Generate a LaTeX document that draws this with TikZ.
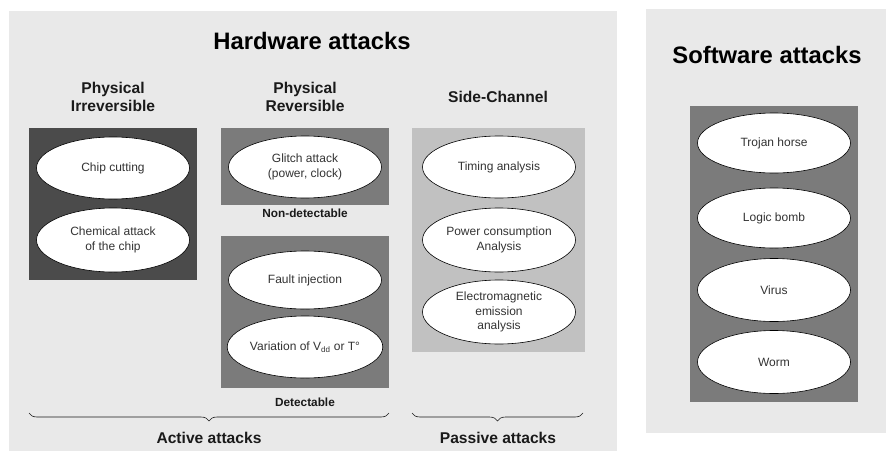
\documentclass[tikz,border=0pt]{standalone}
\usepackage{fontspec}
\setmainfont{Liberation Sans}
\usetikzlibrary{shapes.geometric,decorations.pathreplacing}
\definecolor{panelgray}{HTML}{E9E9E9}
\definecolor{darkbox}{HTML}{4B4B4B}
\definecolor{midbox}{HTML}{7B7B7B}
\definecolor{lightbox}{HTML}{C1C1C1}
\definecolor{ink}{HTML}{1A1A1A}
\definecolor{elltext}{HTML}{333333}
\begin{document}
\begin{tikzpicture}[x=1pt,y=-1pt,
  ell/.style={ellipse,draw=black,line width=0.6pt,fill=white,inner sep=0pt,
    minimum width=153pt,minimum height=62pt,align=center,text=elltext,
    font=\fontsize{12}{14.5}\selectfont},
  title/.style={font=\fontsize{23.8}{27}\selectfont\bfseries,text=black},
  subtitle/.style={font=\fontsize{15.6}{18.5}\selectfont\bfseries,align=center,text=ink},
  small/.style={font=\fontsize{11.8}{13}\selectfont\bfseries,text=ink},
  bracestyle/.style={decorate,decoration={brace,mirror,amplitude=8pt},line width=0.6pt,draw=ink}
]
\useasboundingbox (0,0) rectangle (886,453);
\fill[white] (0,0) rectangle (886,453);

% panels
\fill[panelgray] (9,11) rectangle (617,451);
\fill[panelgray] (646,9) rectangle (886,433);

% titles
\node[title] (hw) at (312,41) {Hardware attacks};
\node[title] (sw) at (767,55) {Software attacks};
\node[subtitle] (pi) at (113,97) {Physical\\Irreversible};
\node[subtitle] (pr) at (305,97) {Physical\\Reversible};
\node[subtitle] (sc) at (498,97) {Side-Channel};

% group boxes
\fill[darkbox] (29,128) rectangle (197,280);
\fill[midbox] (221,128) rectangle (389,205);
\fill[midbox] (221,236) rectangle (389,388);
\fill[lightbox] (412,128) rectangle (585,352);
\fill[midbox] (690,106) rectangle (858,402);

% ellipses
\node[ell] (cut) at (113,168) {Chip cutting};
\node[ell,minimum height=64pt] (chem) at (113,240) {Chemical attack\\of the chip};
\node[ell] (glitch) at (305,167) {Glitch attack\\(power, clock)};
\node[ell,minimum height=58pt] (fault) at (305,280) {Fault injection};
\node[ell] (vdd) at (305,347) {Variation of V\textsubscript{dd} or T°};
\node[ell] (timing) at (499,167) {Timing analysis};
\node[ell,minimum height=64pt] (power) at (499,240) {Power consumption\\Analysis};
\node[ell,minimum height=64pt] (em) at (499,312) {Electromagnetic\\emission\\analysis};
\node[ell,minimum height=60pt] (trojan) at (774,143) {Trojan horse};
\node[ell,minimum height=60pt] (logic) at (774,218) {Logic bomb};
\node[ell,minimum height=63pt] (virus) at (774,290) {Virus};
\node[ell,minimum height=63pt] (worm) at (774,362) {Worm};

% small labels
\node[small] (nd) at (305,213) {Non-detectable};
\node[small] (det) at (305,402) {Detectable};

% braces
\coordinate (a1) at (29,413);
\coordinate (a2) at (389,413);
\coordinate (p1) at (412,413);
\coordinate (p2) at (583,413);
\draw[bracestyle] (a1) -- (a2);
\draw[bracestyle] (p1) -- (p2);
\node[subtitle] (act) at (209,438) {Active attacks};
\node[subtitle] (pas) at (498,438) {Passive attacks};
\end{tikzpicture}
\end{document}
